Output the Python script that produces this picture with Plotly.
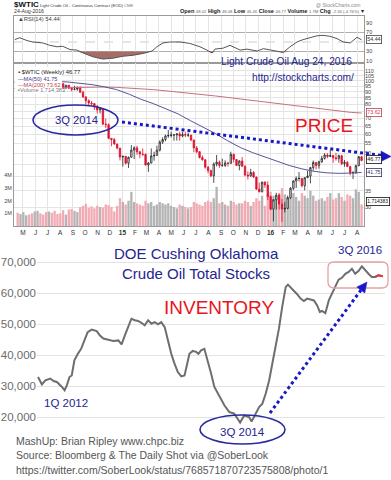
import math
import pandas as pd
import plotly.graph_objects as go

FONT = "Liberation Sans, Arial, sans-serif"
NAVY = "#25258f"
BLUE = "#1818c8"
RED = "#e8141e"
CANDLE_RED = "#e0102e"
W, H = 391, 480

# ---------------- Top chart: $WTIC weekly ----------------
week_dates = pd.date_range("2014-05-02", periods=122, freq="W-FRI")

close = [99.76, 99.99, 102.02, 104.35, 102.71, 102.66, 106.91, 107.26, 105.74, 104.06, 100.83, 103.13, 102.09,
         97.88, 97.65, 97.35, 93.65, 95.96, 93.29, 92.27, 92.41, 93.54, 89.74, 85.82, 82.75, 81.01, 80.54,
         78.65, 75.82, 76.51, 66.15, 65.84, 57.81, 57.13, 54.73,
         52.69, 48.36, 48.69, 45.59, 48.24, 51.69, 52.78, 50.81, 49.76, 49.61, 44.84, 45.72, 48.87,
         49.14, 51.64, 55.74, 57.15, 59.15, 59.39, 59.69, 59.72, 60.30, 59.13, 59.96, 59.61, 59.63,
         56.93, 52.74, 50.89, 48.14, 47.12, 43.87, 42.50, 40.45, 45.22, 46.05, 44.63, 44.68, 45.70,
         45.54, 49.63, 47.26, 44.60, 46.59, 44.29, 40.74, 40.39, 41.71, 39.97, 35.62, 34.73, 38.10, 37.04,
         33.16, 29.42, 32.19, 33.62, 30.89, 29.44, 29.64, 32.78, 35.92, 38.50, 39.44, 39.46,
         36.79, 39.72, 40.36, 43.73, 45.92, 44.66, 46.21, 47.75, 49.33, 48.62, 49.07, 47.98, 47.64,
         48.99, 45.41, 45.95, 44.19, 41.60, 41.80, 44.49, 48.52, 46.77]
high = [101.8, 100.8, 102.4, 104.6, 104.6, 103.4, 107.7, 107.7, 107.5, 106.1, 104.4, 103.7, 105.0,
        102.4, 98.8, 98.3, 97.8, 96.1, 96.0, 93.8, 95.4, 94.9, 94.9, 91.0, 86.4, 83.9, 82.5,
        80.9, 79.3, 77.8, 76.9, 69.7, 66.6, 58.0, 58.0,
        55.0, 52.7, 49.0, 48.7, 48.6, 54.2, 53.6, 53.9, 51.3, 52.5, 50.0, 46.1, 52.5,
        50.9, 53.9, 56.7, 58.4, 59.9, 62.6, 61.6, 60.0, 60.6, 61.6, 61.5, 61.6, 61.0,
        59.7, 57.0, 53.7, 51.2, 49.1, 47.3, 44.4, 42.9, 45.9, 49.3, 46.8, 47.6, 46.9,
        46.2, 50.9, 49.9, 47.3, 46.9, 48.4, 44.7, 42.2, 43.2, 42.3, 40.1, 37.9, 38.2, 38.3,
        38.4, 33.5, 32.4, 34.4, 34.1, 32.4, 31.5, 33.5, 36.3, 38.7, 40.2, 41.9,
        39.5, 39.8, 42.4, 44.0, 46.8, 46.0, 46.7, 48.9, 50.2, 50.2, 51.7, 49.3, 50.4,
        49.5, 49.4, 47.0, 46.6, 44.4, 42.1, 45.0, 48.8, 48.8]
low = [99.0, 98.9, 99.8, 101.8, 102.2, 101.4, 102.5, 105.4, 105.2, 103.9, 100.6, 99.5, 101.8,
       97.4, 96.6, 95.6, 92.5, 92.5, 92.5, 90.4, 91.4, 91.1, 89.2, 84.9, 79.8, 79.4, 79.2,
       75.8, 73.3, 73.3, 65.7, 63.7, 57.3, 53.6, 54.5,
       52.0, 46.8, 44.2, 45.1, 43.6, 48.2, 47.4, 49.4, 47.8, 48.8, 44.6, 42.0, 45.5,
       46.7, 49.0, 51.0, 54.8, 56.2, 58.1, 58.3, 56.5, 56.6, 56.6, 58.4, 58.5, 58.6,
       56.2, 50.6, 50.1, 47.7, 46.7, 43.3, 41.4, 39.9, 37.8, 44.2, 43.6, 44.1, 44.0,
       44.2, 45.5, 45.9, 44.4, 42.6, 44.1, 40.2, 39.0, 40.1, 39.6, 35.3, 34.5, 34.5, 36.0,
       32.1, 29.1, 26.2, 29.3, 29.3, 26.05, 28.5, 29.4, 32.5, 35.2, 36.0, 38.3,
       36.2, 35.2, 39.6, 37.6, 42.5, 43.0, 43.3, 45.8, 47.2, 47.8, 48.3, 45.8, 46.7,
       45.8, 44.8, 44.1, 43.9, 40.6, 39.2, 41.1, 44.4, 46.46]
first_open = 100.60
open_ = [first_open] + close[:-1]

volume_m = [1.05, 0.95, 1.1, 0.85, 0.9, 1.0, 1.15, 1.2, 1.0, 0.9, 1.1, 1.15, 1.05, 1.2, 0.95, 1.0, 1.25, 0.9,
            1.3, 1.35, 1.2, 1.1, 1.5, 1.6, 1.75, 1.45, 1.55, 1.4, 1.6, 1.5, 1.45, 1.7, 1.65, 1.5, 1.15,
            1.6, 2.2, 1.9, 1.7, 2.0, 2.7, 1.9, 1.8, 1.7, 1.6, 2.0, 1.8, 1.9, 1.6, 1.7, 1.9, 1.8, 1.7, 1.8,
            1.6, 1.5, 1.4, 1.7, 1.6, 1.5, 1.4, 1.5, 1.9, 1.8, 1.7, 1.6, 1.9, 2.0, 1.9, 2.2, 3.1, 1.8, 1.9,
            1.7, 1.6, 2.0, 1.9, 1.7, 1.8, 1.8, 2.0, 1.9, 1.6, 1.9, 2.2, 2.0, 2.4, 1.6,
            2.5, 2.7, 2.4, 2.3, 2.6, 3.0, 2.5, 2.3, 2.8, 2.6, 2.3, 2.0, 2.6, 2.4, 2.2, 2.8, 2.4, 2.0,
            2.1, 2.2, 2.0, 2.3, 2.6, 2.1, 2.2, 2.6, 2.3, 2.0, 2.5, 2.4, 2.2, 2.9, 2.7, 1.714383]

ma_dates = ["2014-04-23", "2014-06-01", "2014-07-01", "2014-08-01", "2014-09-01", "2014-10-01", "2014-11-01",
            "2014-12-01", "2015-01-01", "2015-02-01", "2015-03-01", "2015-04-01", "2015-05-01", "2015-06-01",
            "2015-07-01", "2015-08-01", "2015-09-01", "2015-10-01", "2015-11-01", "2015-12-01", "2016-01-01",
            "2016-02-01", "2016-03-01", "2016-04-01", "2016-05-01", "2016-06-01", "2016-07-01", "2016-08-01",
            "2016-08-26"]
ma50 = [98.6, 99.2, 99.6, 99.5, 99.0, 98.0, 96.5, 94.5, 92.0, 88.0, 84.0, 80.5, 77.0, 73.0, 68.5, 64.5, 60.5,
        56.5, 53.0, 50.5, 48.3, 46.3, 44.6, 43.2, 42.2, 41.6, 41.4, 41.5, 41.75]
ma200 = [93.0, 93.3, 93.6, 93.9, 94.1, 94.3, 94.4, 94.3, 94.0, 93.5, 92.8, 92.0, 91.0, 90.0, 89.0, 87.8, 86.6,
         85.4, 84.2, 83.0, 81.8, 80.5, 79.3, 78.2, 77.1, 76.0, 74.9, 74.0, 73.62]

rsi_dates = ["2014-04-25", "2014-05-07", "2014-05-25", "2014-06-08", "2014-07-03", "2014-07-20", "2014-08-07",
             "2014-08-21", "2014-09-08", "2014-09-25", "2014-10-10", "2014-11-03", "2014-11-28", "2014-12-23",
             "2015-01-16", "2015-02-10", "2015-03-07", "2015-03-29", "2015-04-10", "2015-04-25", "2015-05-12",
             "2015-06-06", "2015-06-30", "2015-07-25", "2015-08-11", "2015-08-24", "2015-08-31", "2015-09-20",
             "2015-10-07", "2015-10-14", "2015-11-01", "2015-11-18", "2015-12-13", "2015-12-28", "2016-01-13",
             "2016-01-31", "2016-02-15", "2016-03-03", "2016-03-20", "2016-04-04", "2016-04-21", "2016-05-08",
             "2016-05-23", "2016-06-09", "2016-06-27", "2016-07-12", "2016-07-29", "2016-08-05", "2016-08-15",
             "2016-08-26"]
rsi_values = [55, 59, 53, 50, 48, 43, 40, 41, 34, 33, 27, 19, 14, 16, 20, 22, 26, 31, 40, 48, 50, 50, 47, 40,
              33, 27, 35, 37, 43, 40, 33, 35, 31, 36, 33, 30, 28, 40, 50, 55, 59, 63, 64, 62, 57, 50, 48, 53,
              60, 54.44]

month_ticks = ["2014-05-15", "2014-06-15", "2014-07-15", "2014-08-15", "2014-09-15", "2014-10-15", "2014-11-15",
               "2014-12-15", "2015-01-15", "2015-02-15", "2015-03-15", "2015-04-15", "2015-05-15", "2015-06-15",
               "2015-07-15", "2015-08-15", "2015-09-15", "2015-10-15", "2015-11-15", "2015-12-15", "2016-01-15",
               "2016-02-15", "2016-03-15", "2016-04-15", "2016-05-15", "2016-06-15", "2016-07-15", "2016-08-15"]
month_labels = ["M", "J", "J", "A", "S", "O", "N", "D", "<b>15</b>", "F", "M", "A", "M", "J", "J", "A", "S",
                "O", "N", "D", "<b>16</b>", "F", "M", "A", "M", "J", "J", "A"]
price_ticks = [30, 35, 40, 45, 50, 55, 60, 65, 70, 75, 80, 85, 90, 95, 100, 105, 110]
price_tick_text = ["30", "35", "", "", "50", "55", "60", "65", "70", "", "80", "85", "90", "95", "100", "105",
                   "110"]

# ---------------- Bottom chart: Cushing stocks ----------------
inv_dates = ["2012-01-06", "2012-01-25", "2012-02-11", "2012-03-06", "2012-03-22", "2012-04-07", "2012-05-02",
             "2012-05-15", "2012-05-26", "2012-06-08", "2012-06-19", "2012-07-02", "2012-07-19", "2012-08-04",
             "2012-08-20", "2012-09-05", "2012-09-25", "2012-10-19", "2012-11-04", "2012-11-21", "2012-12-15",
             "2013-01-08", "2013-02-02", "2013-02-18", "2013-03-06", "2013-03-22", "2013-04-07", "2013-04-24",
             "2013-05-10", "2013-05-26", "2013-06-11", "2013-06-28", "2013-07-14", "2013-07-30", "2013-08-15",
             "2013-08-31", "2013-09-17", "2013-10-03", "2013-10-19", "2013-11-04", "2013-11-20", "2013-12-07",
             "2013-12-23", "2014-01-05", "2014-01-16", "2014-02-01", "2014-02-18", "2014-03-01", "2014-03-14",
             "2014-03-30", "2014-04-15", "2014-05-02", "2014-05-18", "2014-06-11", "2014-07-06", "2014-07-30",
             "2014-08-23", "2014-09-08", "2014-09-21", "2014-10-11", "2014-11-04", "2014-11-16", "2014-12-07",
             "2014-12-23", "2015-01-08", "2015-01-24", "2015-02-10", "2015-02-26", "2015-03-14", "2015-03-30",
             "2015-04-15", "2015-05-02", "2015-05-13", "2015-05-26", "2015-06-11", "2015-06-27", "2015-07-14",
             "2015-07-30", "2015-08-15", "2015-08-31", "2015-09-17", "2015-10-03", "2015-10-16", "2015-10-27",
             "2015-11-12", "2015-11-29", "2015-12-15", "2015-12-31", "2016-01-16", "2016-02-01", "2016-02-18",
             "2016-03-05", "2016-03-21", "2016-04-06", "2016-04-22", "2016-05-09", "2016-05-25", "2016-06-10",
             "2016-06-26", "2016-07-13", "2016-07-29", "2016-08-19"]
inv_values = [32900, 30500, 31800, 32400, 31600, 31300, 29700, 28600, 30200, 32900, 33400, 38300, 40400, 42000,
              44700, 47400, 48200, 47700, 46300, 45300, 44900,
              44500, 44700, 43400, 46300, 48800, 51700, 51200, 51000, 50400, 49600, 51200, 50100, 50600, 49900,
              50600, 49000, 44700, 40400, 37200, 34500, 33100, 33400,
              37200, 40400, 41300, 41000, 40400, 41500, 42000, 38300, 34000, 29700, 27000, 23800, 21600, 21100,
              19500, 18200, 20500, 20000, 18500, 21100, 23200,
              24300, 27500, 31800, 37200, 42600, 48500, 55500, 61900, 62700, 61900, 60900, 59600, 58200, 57400,
              58200, 57800, 57600, 56000, 53900, 54200, 53500, 57600, 59800, 62500,
              64300, 64900, 66200, 66800, 67800, 66200, 67100, 68600, 67300, 66200, 65200, 65200, 65700, 65400]
inv_ticks = [20000, 30000, 40000, 50000, 60000, 70000]


def px(x):
    return x / W


def py(y):
    return 1 - y / H


fig = go.Figure()

# RSI panel
rsi_floor = [min(v, 30) for v in rsi_values]
fig.add_trace(go.Scatter(x=rsi_dates, y=[30] * len(rsi_dates), xaxis="x", yaxis="y", mode="lines",
                         line=dict(width=0, color="rgba(0,0,0,0)"), hoverinfo="skip"))
fig.add_trace(go.Scatter(x=rsi_dates, y=rsi_floor, xaxis="x", yaxis="y", mode="lines", fill="tonexty",
                         fillcolor="#a86c66", line=dict(width=0, color="#a86c66"), hoverinfo="skip"))
fig.add_trace(go.Scatter(x=rsi_dates, y=rsi_values, xaxis="x", yaxis="y", mode="lines",
                         line=dict(width=1, color="#555555"), hoverinfo="skip"))

# Volume
vol_colors = ["#f2aab4" if c < o else "#b4b4b4" for o, c in zip(open_, close)]
fig.add_trace(go.Bar(x=week_dates, y=[v * 1e6 for v in volume_m], xaxis="x2", yaxis="y2",
                     marker=dict(color=vol_colors, line=dict(width=0)), hoverinfo="skip"))

# MAs
fig.add_trace(go.Scatter(x=ma_dates, y=ma200, xaxis="x2", yaxis="y3", mode="lines",
                         line=dict(width=1, color="#c8707c"), hoverinfo="skip"))
fig.add_trace(go.Scatter(x=ma_dates, y=ma50, xaxis="x2", yaxis="y3", mode="lines",
                         line=dict(width=1, color="#55559a"), hoverinfo="skip"))

# Candles
fig.add_trace(go.Candlestick(x=week_dates, open=open_, high=high, low=low, close=close, xaxis="x2", yaxis="y3",
                             increasing=dict(line=dict(color="#222222", width=0.8), fillcolor="white"),
                             decreasing=dict(line=dict(color=CANDLE_RED, width=0.8), fillcolor=CANDLE_RED),
                             whiskerwidth=0, hoverinfo="skip"))

# Inventory
fig.add_trace(go.Scatter(x=inv_dates, y=inv_values, xaxis="x3", yaxis="y4", mode="lines",
                         line=dict(width=2, color="#6e6e6e"), hoverinfo="skip"))
fig.add_trace(go.Scatter(x=inv_dates[-3:], y=inv_values[-3:], xaxis="x3", yaxis="y4", mode="lines",
                         line=dict(width=2, color="#e03a3a"), hoverinfo="skip"))

x_range = ["2014-04-23", "2016-09-01"]
grid = "#e4e4e4"
frame = "#9a9a9a"
small = dict(family=FONT, size=5.5, color="#444")

fig.update_layout(
    width=W, height=H, margin=dict(l=0, r=0, t=0, b=0),
    paper_bgcolor="white", plot_bgcolor="white", showlegend=False, bargap=0.18,
    font=dict(family=FONT),
    xaxis=dict(domain=[px(14), px(364)], anchor="y", type="date", range=x_range, tickvals=month_ticks,
               showticklabels=False, ticks="", showgrid=True, gridcolor=grid, showline=True, mirror=True,
               linecolor=frame, linewidth=1, zeroline=False),
    yaxis=dict(domain=[py(63), py(16)], anchor="x", range=[5.8, 104.7], side="right",
               tickvals=[10, 30, 70, 90], tickfont=small, ticks="", showgrid=False, zeroline=False,
               showline=True, mirror=True, linecolor=frame, linewidth=1),
    xaxis2=dict(domain=[px(14), px(364)], anchor="y2", type="date", range=x_range, matches="x",
                tickvals=month_ticks, ticktext=month_labels, tickfont=dict(family=FONT, size=6.5, color="#333"),
                ticks="", showgrid=True, gridcolor=grid, showline=True, mirror=True, linecolor=frame,
                linewidth=1, zeroline=False, rangeslider=dict(visible=False)),
    yaxis2=dict(domain=[py(226), py(63)], anchor="x2", range=[0, 12.9e6], side="left",
                tickvals=[1e6, 2e6, 3e6, 4e6], ticktext=["1M", "2M", "3M", "4M"], tickfont=small, ticks="",
                showgrid=False, zeroline=False, showline=True, mirror=True, linecolor=frame, linewidth=1),
    yaxis3=dict(overlaying="y2", anchor="x2", side="right", type="log",
                range=[math.log10(25.05), math.log10(118.6)], tickvals=price_ticks,
                ticktext=price_tick_text, tickfont=small, ticks="", showgrid=True,
                gridcolor=grid, zeroline=False, showline=False),
    xaxis3=dict(domain=[px(37), px(385)], anchor="y4", type="date", range=["2012-01-01", "2016-08-30"],
                visible=False),
    yaxis4=dict(domain=[py(432), py(245)], anchor="x3", range=[15161, 75484], tickvals=inv_ticks,
                tickformat=",", tickfont=dict(family=FONT, size=11.5, color="#6b6b6b"), ticks="",
                showgrid=True, gridcolor="#e3e3e3", zeroline=False, showline=False),
)

# RSI reference lines
for lvl, dash, col in [(70, "solid", "#9a9a9a"), (30, "solid", "#9a9a9a"), (50, "dash", "#c0c0c0")]:
    fig.add_shape(type="line", xref="x domain", yref="y", x0=0, x1=1, y0=lvl, y1=lvl,
                  line=dict(color=col, width=0.8, dash=dash), layer="below")

# Legend backing box in price panel
fig.add_shape(type="rect", xref="paper", yref="paper", x0=px(14.5), x1=px(62), y0=py(94), y1=py(67),
              fillcolor="white", line=dict(width=0), layer="above")


def txt(x, y, s, size, color, xanchor="left", **kw):
    fig.add_annotation(x=px(x), y=py(y), xref="paper", yref="paper", text=s, showarrow=False,
                       font=dict(family=FONT, size=size, color=color), xanchor=xanchor, yanchor="middle", **kw)


# Header
txt(12, 5, "<b>$WTIC</b>", 8, "#111")
txt(38, 5.5, "Light Crude Oil - Continuous Contract (EOD) <span style='color:#777'>CME</span>", 4.2, "#333")
txt(363, 4.5, "@ StockCharts.com", 5, "#8a8a8a", xanchor="right")
txt(12, 11.5, "24-Aug-2016", 5.2, "#333")
v = "<span style='font-size:4.2px;color:#666'>"
txt(366, 11.5,
    f"<b>Open</b> {v}48.02</span> <b>High</b> {v}48.08</span> <b>Low</b> {v}46.46</span> "
    f"<b>Close</b> {v}46.77</span> <b>Volume</b> {v}1.7M</span> <b>Chg</b> {v}-2.34 (-4.76%)</span> ▾",
    5.6, "#222", xanchor="right")
txt(16, 18.5, "▲RSI(14) 54.44", 5.8, "#444")

# Price-panel legend
txt(16, 72, "▪ $WTIC (Weekly) 46.77", 5.8, "#222")
txt(16, 78.5, "—MA(50) 41.75", 5.6, "#3c3c8c")
txt(16, 84.5, "—MA(200) 73.62", 5.6, "#c04050")
txt(16, 90.5, "▪Volume 1,714,383", 5.6, "#777")

# Right boxed labels
box = dict(borderwidth=0.8, borderpad=0.5, bgcolor="white")
txt(365.5, 39, "54.44", 5.3, "#333", bordercolor="#444", **box)
txt(365.5, 113, "73.62", 5.3, "#c04050", bordercolor="#c04050", **box)
txt(365.5, 160, "46.77", 5.3, "#111", bordercolor="#111", **box)
txt(365.5, 172, "41.75", 5.3, "#333366", bordercolor="#333366", **box)
txt(365.5, 201.5, "1.714383", 5.0, "#111", bordercolor="#111", **box)

# Overlay annotations on price panel
txt(354, 62, "Light Crude Oil Aug 24, 2016", 10.2, NAVY, xanchor="right")
txt(356, 77.5, "http://stockcharts.com/", 10.2, NAVY, xanchor="right")
txt(324, 125, "PRICE", 19, RED, xanchor="center")
fig.add_shape(type="circle", xref="paper", yref="paper", x0=px(33), x1=px(118), y0=py(135), y1=py(105),
              line=dict(color="#2a2aa0", width=1.6))
txt(76, 120.5, "3Q 2014", 11.2, NAVY, xanchor="center")
fig.add_shape(type="line", xref="paper", yref="paper", x0=px(122), y0=py(122), x1=px(382), y1=py(155.5),
              line=dict(color=BLUE, width=3, dash="3px,3px"))
fig.add_shape(type="path", xref="paper", yref="paper",
              path=f"M {px(391)},{py(156.5)} L {px(381)},{py(151)} L {px(381)},{py(161.5)} Z",
              fillcolor=BLUE, line=dict(color=BLUE, width=0.5))

# Bottom chart annotations
txt(196, 253, "DOE Cushing Oklahoma", 15, NAVY, xanchor="center")
txt(196, 273.5, "Crude Oil Total Stocks", 15, NAVY, xanchor="center")
txt(219, 307, "INVENTORY", 19, RED, xanchor="center")
txt(360, 250, "3Q 2016", 11.5, NAVY, xanchor="center")
txt(66, 403, "1Q 2012", 11.5, NAVY, xanchor="center")

# rounded rectangle around 3Q 2016
x0, x1, y0, y1, r = 328, 388, 262, 288, 6
rr = (f"M {px(x0 + r)},{py(y0)} L {px(x1 - r)},{py(y0)} Q {px(x1)},{py(y0)} {px(x1)},{py(y0 + r)} "
      f"L {px(x1)},{py(y1 - r)} Q {px(x1)},{py(y1)} {px(x1 - r)},{py(y1)} L {px(x0 + r)},{py(y1)} "
      f"Q {px(x0)},{py(y1)} {px(x0)},{py(y1 - r)} L {px(x0)},{py(y0 + r)} Q {px(x0)},{py(y0)} {px(x0 + r)},{py(y0)} Z")
fig.add_shape(type="path", xref="paper", yref="paper", path=rr, line=dict(color="#e8a0a0", width=1.3))

fig.add_shape(type="circle", xref="paper", yref="paper", x0=px(200), x1=px(285), y0=py(444), y1=py(415),
              line=dict(color="#2a2aa0", width=1.6))
txt(242.5, 432, "3Q 2014", 11.5, NAVY, xanchor="center")

# dotted arrow up to 3Q 2016
tip = (367, 282)
base = (361, 290)
fig.add_shape(type="line", xref="paper", yref="paper", x0=px(270), y0=py(413), x1=px(base[0]), y1=py(base[1]),
              line=dict(color=BLUE, width=3, dash="3px,3px"))
fig.add_shape(type="path", xref="paper", yref="paper",
              path=f"M {px(tip[0])},{py(tip[1])} L {px(364.8)},{py(293)} L {px(356.8)},{py(287)} Z",
              fillcolor=BLUE, line=dict(color=BLUE, width=0.5))

# Footer
txt(14, 440.5, "MashUp: Brian Ripley www.chpc.biz", 10.5, "#555")
txt(14, 455, "Source: Bloomberg &amp; The Daily Shot via @SoberLook", 10.5, "#555")
txt(14, 469.5, "https://twitter.com/SoberLook/status/768571870723575808/photo/1", 10.5, "#555")

fig.write_html("out.html", config={"displayModeBar": False},
               post_script="document.body.style.margin='0';document.body.style.overflow='hidden';")
